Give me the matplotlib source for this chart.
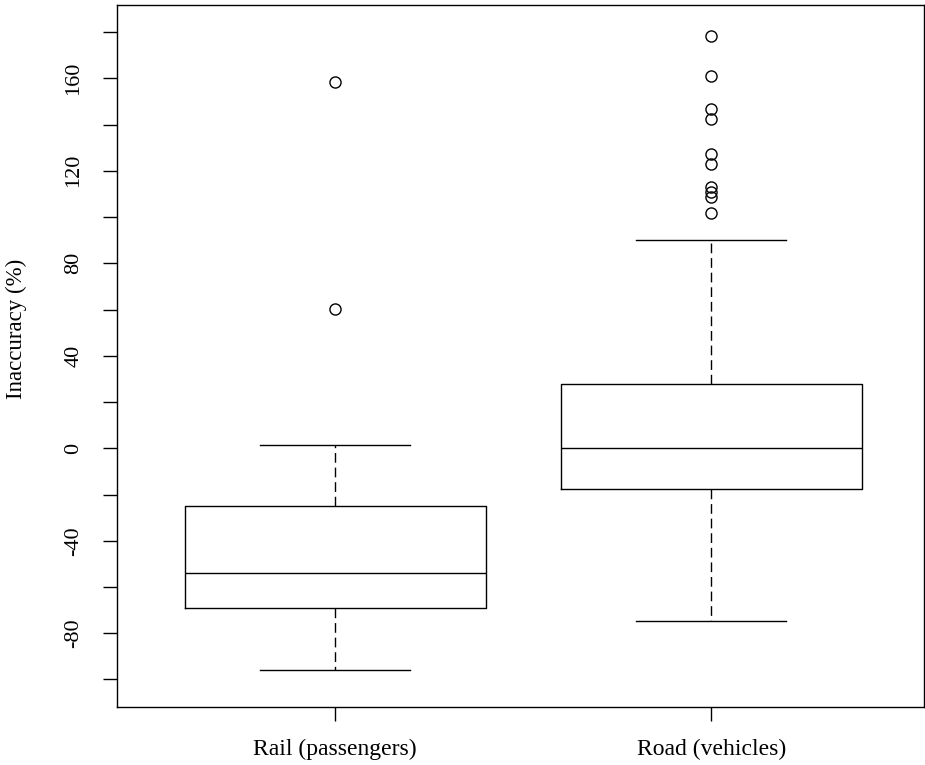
import matplotlib
matplotlib.use("Agg")
import matplotlib.pyplot as plt

categories = ["Rail (passengers)", "Road (vehicles)"]
whislo = [-95.8, -74.9]
q1 = [-68.9, -17.5]
med = [-53.8, 0.0]
q3 = [-24.9, 27.6]
whishi = [1.3, 90.2]
rail_outliers = [158.6, 60.3]
road_outliers = [178.2, 161.0, 146.6, 142.3, 127.2, 122.9, 112.8, 110.7, 108.5, 101.6]
fliers = [rail_outliers, road_outliers]

yticks = list(range(-100, 181, 20))
ytick_labels = [str(t) if t % 40 == 0 else "" for t in yticks]

plt.rcParams['font.family'] = ['Liberation Serif', 'DejaVu Serif']

fig = plt.figure(figsize=(9.25, 7.65), dpi=100)
ax = fig.add_axes([117/925, 1-707/765, (924-117)/925, (707-5)/765])

stats = []
for i, c in enumerate(categories):
    stats.append(dict(label=c, whislo=whislo[i], q1=q1[i], med=med[i],
                      q3=q3[i], whishi=whishi[i], fliers=fliers[i]))

lw = 1.0
ax.bxp(stats, positions=[1, 2], widths=0.8, showfliers=True,
       boxprops=dict(color='black', linewidth=lw),
       medianprops=dict(color='black', linewidth=lw),
       whiskerprops=dict(color='black', linewidth=lw, linestyle=(0, (7, 3.5))),
       capprops=dict(color='black', linewidth=lw),
       capwidths=0.4,
       flierprops=dict(marker='o', markerfacecolor='none', markeredgecolor='black',
                       markersize=8, markeredgewidth=1.0, linestyle='none'))

ax.set_xlim(0.42, 2.566)
ax.set_ylim(-111.9, 191.7)
ax.set_yticks(yticks)
ax.set_yticklabels(ytick_labels, rotation=90, va='center', fontsize=16)
ax.set_xticks([1, 2])
ax.set_xticklabels(categories, fontsize=17)
ax.tick_params(axis='both', direction='out', length=10.2, width=1.0, color='black')
ax.tick_params(axis='y', pad=14)
ax.tick_params(axis='x', pad=12.5)
ax.set_ylabel("Inaccuracy (%)", fontsize=16.5)
ax.yaxis.set_label_coords(-0.1115, 0.538)
for s in ax.spines.values():
    s.set_linewidth(1.0)
    s.set_color('black')

fig.savefig("out.png", dpi=100)
